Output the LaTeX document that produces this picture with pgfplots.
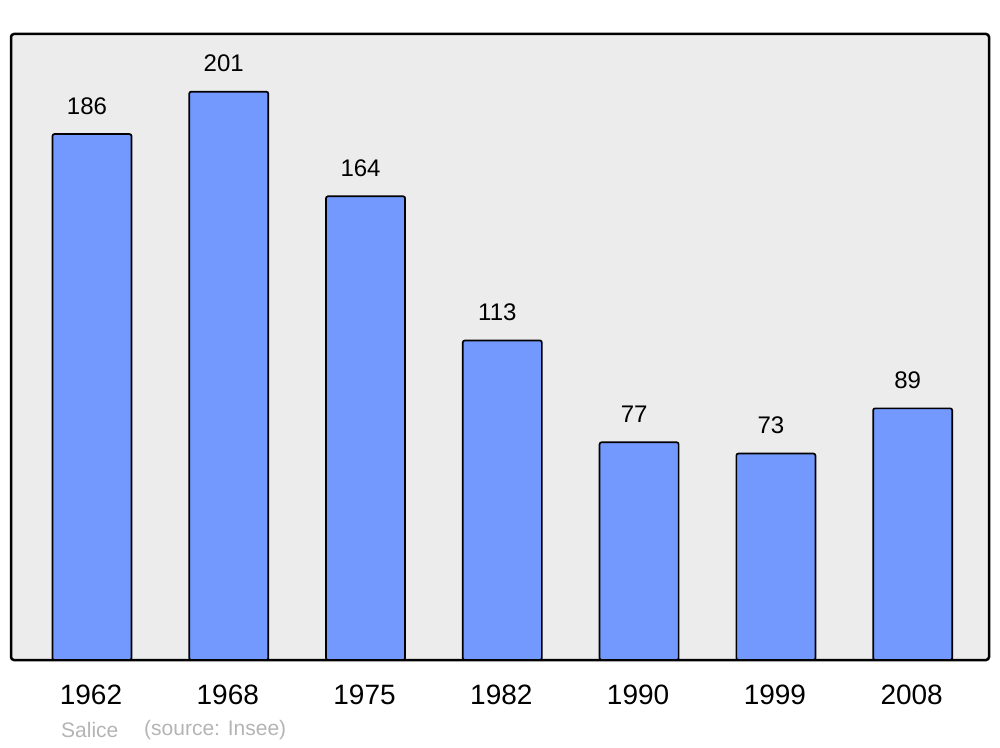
\documentclass[border=0pt]{standalone}
\usepackage{pgfplots}
\pgfplotsset{compat=1.18}
\usepackage{fontspec}
\setmainfont{Liberation Sans}
\definecolor{barblue}{RGB}{115,153,255}
\definecolor{bggray}{RGB}{236,236,236}
\definecolor{footgray}{RGB}{180,180,180}
\begin{document}
\begin{tikzpicture}
\path[use as bounding box] (0pt,0pt) rectangle (1000pt,747pt);
\begin{axis}[
  at={(11pt,87pt)}, anchor=south west,
  scale only axis, width=978pt, height=626pt,
  xmin=-0.592, xmax=6.558, ymin=0, ymax=221.4,
  xtick={0,1,2,3,4,5,6},
  xticklabels={1962,1968,1975,1982,1990,1999,2008},
  ytick=\empty,
  major tick length=0pt,
  xticklabel style={font=\fontsize{28}{30}\selectfont, anchor=center, yshift=-35pt, xshift=-1pt},
  axis background/.style={fill=bggray},
  axis line style={line width=2.5pt, rounded corners=3pt},
  /pgf/number format/assume math mode=true,
  clip=false,
]
\addplot[ybar, bar width=0.578, fill=barblue, draw=black, line width=1.7pt, rounded corners=2pt,
  nodes near coords,
  every node near coord/.append style={font=\fontsize{24}{26}\selectfont, anchor=center, yshift=28pt, xshift=-5pt, black}]
  coordinates {(0,186) (1,201) (2,164) (3,113) (4,77) (5,73) (6,89)};
\end{axis}
\node[anchor=west, inner sep=0pt, text=footgray, font=\fontsize{21}{23}\selectfont] at (61pt,17pt) {Salice};
\node[anchor=west, inner sep=0pt, text=footgray, font=\fontsize{21}{23}\selectfont] at (144pt,17pt) {(source: Insee)};
\end{tikzpicture}
\end{document}
